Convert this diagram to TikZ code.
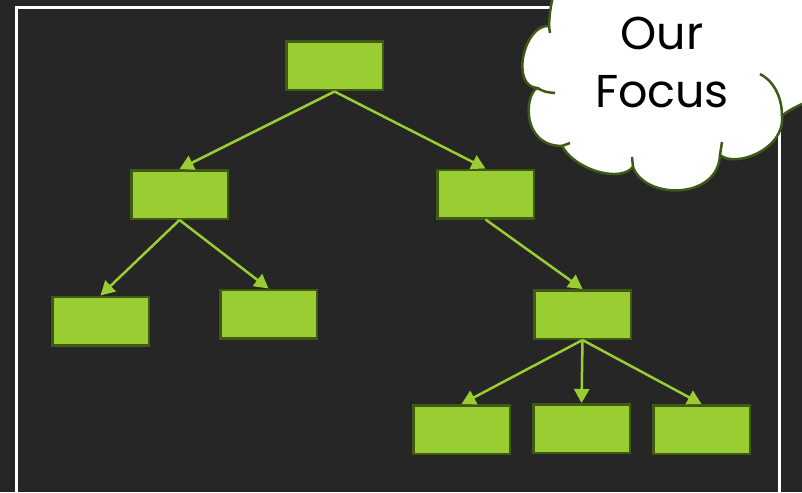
\documentclass[tikz,border=0pt]{standalone}
\usepackage{fontspec}
\newfontfamily\cloudfont{Poppins}
\usetikzlibrary{arrows.meta}
\definecolor{slidebg}{HTML}{262626}
\definecolor{boxfill}{HTML}{9ACD32}
\definecolor{boxedge}{HTML}{3E5A14}
\begin{document}
\begin{tikzpicture}[x=1pt,y=-1pt,
  blk/.style={draw=boxedge,fill=boxfill,line width=2.5pt,minimum width=96.5pt,minimum height=48.5pt,inner sep=0pt},
  link/.style={draw=boxfill,line width=2.5pt,->,>={Triangle[length=14pt,width=15pt]}},
  puff/.style={draw=boxedge,line width=2.5pt},
  cloudtxt/.style={font=\cloudfont\fontsize{46}{58}\selectfont,text=black,inner sep=0pt,anchor=base}]

\fill[slidebg] (0,0) rectangle (802,492);
\useasboundingbox (0,0) rectangle (802,492);
\clip (0,0) rectangle (802,492);

% slide frame
\draw[white,line width=3pt] (16.5,510) -- (16.5,7.5) -- (779.5,7.5) -- (779.5,510);

% tree
\node[blk] (root) at (334.5,66) {};
\node[blk] (lmid) at (179.5,194.5) {};
\node[blk] (rmid) at (485.5,194) {};
\node[blk] (lleft) at (100.5,321) {};
\node[blk] (lright) at (268.5,314) {};
\node[blk] (rlow) at (582.5,314.5) {};
\node[blk] (leafa) at (461.5,429.5) {};
\node[blk] (leafb) at (581.5,428.5) {};
\node[blk] (leafc) at (701.5,429.5) {};

\draw[link] (root.south) -- (lmid.north);
\draw[link] (root.south) -- (rmid.north);
\draw[link] (lmid.south) -- (lleft.north);
\draw[link] (lmid.south) -- (lright.north);
\draw[link] (rmid.south) -- (rlow.north);
\draw[link] (rlow.south) -- (leafa.north);
\draw[link] (rlow.south) -- (leafb.north);
\draw[link] (rlow.south) -- (leafc.north);

% cloud
\draw[puff,fill=white] (575,-25) .. controls (553,-22) and (550,5) .. (549,26)
  .. controls (524,24) and (510,86) .. (537,88)
  .. controls (524,96) and (522,146) .. (562,146)
  .. controls (575,170) and (620,183) .. (633,167)
  .. controls (645,200) and (718,200) .. (720,155)
  .. controls (735,168) and (785,150) .. (782,116)
  .. controls (792,106) and (820,98) .. (850,80)
  -- (850,-30) -- cycle;
\draw[puff] (549,26) -- (550,33);
\draw[puff] (537,88) .. controls (545,92) .. (555,93);
\draw[puff] (562,146) -- (570,143);
\draw[puff] (633,167) -- (632,157);
\draw[puff] (720,155) -- (722,142);
\draw[puff] (782,116) .. controls (782,95) and (772,80) .. (760,74);

\node[cloudtxt] (our) at (662,50) {Our};
\node[cloudtxt] (focus) at (662,108) {Focus};

\end{tikzpicture}
\end{document}
